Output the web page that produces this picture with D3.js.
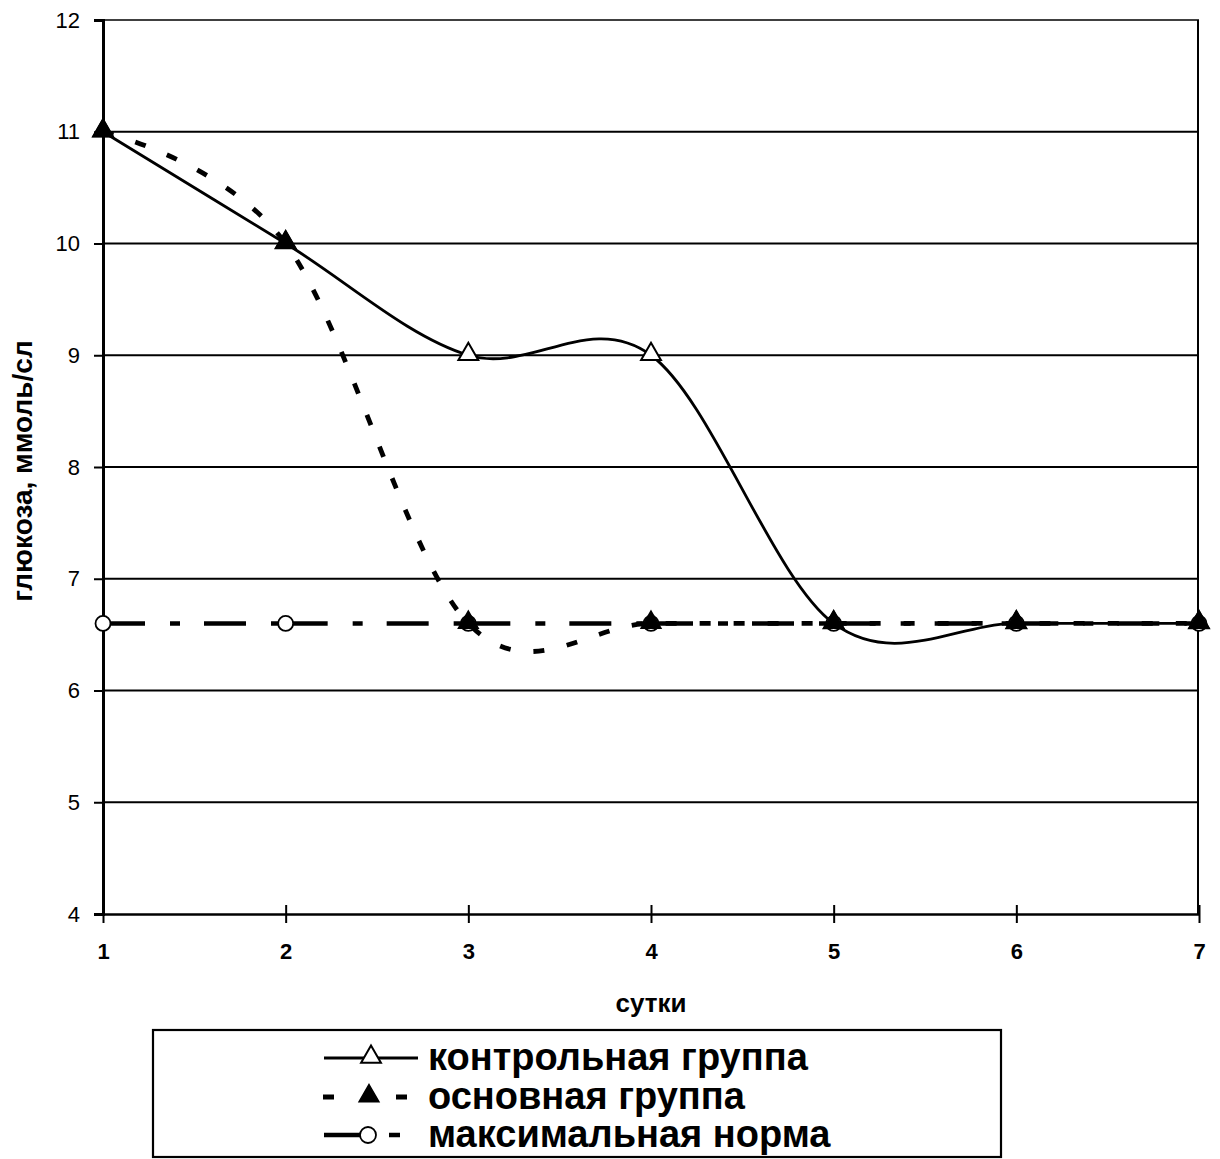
<!DOCTYPE html>
<html>
<head>
<meta charset="utf-8">
<script src="https://cdn.jsdelivr.net/npm/d3@7"></script>
<style>
  html, body { margin: 0; padding: 0; background: #fff; }
  svg { display: block; }
  text { font-family: "Liberation Sans", Arial, sans-serif; fill: #000; }
</style>
</head>
<body>
<svg id="chart" width="1220" height="1159"></svg>
<script>
// Days of observation
const days = [1, 2, 3, 4, 5, 6, 7];
// Glucose, mmol/l
const controlGroup = [11, 10, 9, 9, 6.6, 6.6, 6.6];
const mainGroup = [11, 10, 6.6, 6.6, 6.6, 6.6, 6.6];
const maxNorm = [6.6, 6.6, 6.6, 6.6, 6.6, 6.6, 6.6];
const yTicks = [4, 5, 6, 7, 8, 9, 10, 11, 12];
const seriesNames = ["контрольная группа", "основная группа", "максимальная норма"];
const xTitle = "сутки";
const yTitle = "глюкоза, ммоль/сл";

const svg = d3.select("#chart");
const plotLeft = 103, plotRight = 1199, plotTop = 20, plotBottom = 914;

const x = d3.scaleLinear().domain([1, 7]).range([plotLeft, plotRight]);
const y = d3.scaleLinear().domain([4, 12]).range([plotBottom, plotTop]);

// horizontal gridlines and frame
svg.append("g").selectAll("line")
  .data(yTicks.filter(t => t > 4))
  .join("line")
  .attr("x1", plotLeft).attr("x2", plotRight)
  .attr("y1", d => y(d)).attr("y2", d => y(d))
  .attr("stroke", "#000").attr("stroke-width", d => d === 12 ? 1.6 : 2.2);
svg.append("line")
  .attr("x1", plotRight - 1).attr("x2", plotRight - 1)
  .attr("y1", plotTop).attr("y2", plotBottom)
  .attr("stroke", "#000").attr("stroke-width", 2);

// y axis
const yAxis = svg.append("g")
  .attr("transform", `translate(${plotLeft},0)`)
  .call(d3.axisLeft(y).tickValues(yTicks).tickSize(9).tickPadding(14).tickFormat(d3.format("d")));
yAxis.select(".domain").attr("stroke-width", 3);
yAxis.selectAll(".tick line").attr("stroke-width", 2);
yAxis.selectAll("text").attr("font-size", 22).style("font-family", "'Liberation Sans', Arial, sans-serif");

// x axis with crossing ticks
const xAxis = svg.append("g")
  .attr("transform", `translate(0,${plotBottom})`)
  .call(d3.axisBottom(x).tickValues(days).tickSizeInner(9).tickSizeOuter(0).tickPadding(20).tickFormat(d3.format("d")));
xAxis.select(".domain").attr("stroke-width", 2.4);
xAxis.selectAll(".tick line").attr("y1", -9).attr("stroke-width", 2);
xAxis.selectAll("text").attr("font-size", 22).attr("font-weight", "bold")
  .style("font-family", "'Liberation Sans', Arial, sans-serif");

// axis titles
svg.append("text")
  .attr("x", 651).attr("y", 1012)
  .attr("text-anchor", "middle")
  .attr("font-size", 26).attr("font-weight", "bold")
  .text(xTitle);
svg.append("text")
  .attr("transform", "translate(32,471) rotate(-90)")
  .attr("text-anchor", "middle")
  .attr("font-size", 28).attr("font-weight", "bold")
  .text(yTitle);

const pts = vals => days.map((d, i) => [x(d), y(vals[i])]);
const smooth = d3.line().curve(d3.curveCardinal.tension(0));

// maximum norm: dash-dot, pattern restarts at every point
const normPts = pts(maxNorm);
svg.append("g").selectAll("path")
  .data(d3.pairs(normPts))
  .join("path")
  .attr("d", d => d3.line()(d))
  .attr("fill", "none").attr("stroke", "#000")
  .attr("stroke-width", 4.5)
  .attr("stroke-dasharray", "42,25,10,24");

// main group: dashed smoothed curve
svg.append("path")
  .attr("d", smooth(pts(mainGroup)))
  .attr("fill", "none").attr("stroke", "#000")
  .attr("stroke-width", 4.8)
  .attr("stroke-dasharray", "11,23");

// control group: solid smoothed curve
svg.append("path")
  .attr("d", smooth(pts(controlGroup)))
  .attr("fill", "none").attr("stroke", "#000")
  .attr("stroke-width", 2.8);

const tri = d3.symbol().type(d3.symbolTriangle).size(170);

// markers
svg.append("g").selectAll("path")
  .data(pts(controlGroup))
  .join("path")
  .attr("transform", d => `translate(${d[0]},${d[1] - 1})`)
  .attr("d", tri)
  .attr("fill", "#fff").attr("stroke", "#000").attr("stroke-width", 2);
svg.append("g").selectAll("circle")
  .data(normPts)
  .join("circle")
  .attr("cx", d => d[0]).attr("cy", d => d[1]).attr("r", 7.5)
  .attr("fill", "#fff").attr("stroke", "#000").attr("stroke-width", 1.8);
svg.append("g").selectAll("path")
  .data(pts(mainGroup))
  .join("path")
  .attr("transform", d => `translate(${d[0]},${d[1] - 1})`)
  .attr("d", tri)
  .attr("fill", "#000").attr("stroke", "#000").attr("stroke-width", 1.5);

// legend
const lg = svg.append("g");
lg.append("rect")
  .attr("x", 153).attr("y", 1030).attr("width", 848).attr("height", 127)
  .attr("fill", "#fff").attr("stroke", "#000").attr("stroke-width", 2.2);

const rows = [1058, 1097, 1135];
// row 1: control group
lg.append("line").attr("x1", 324).attr("x2", 418).attr("y1", rows[0]).attr("y2", rows[0])
  .attr("stroke", "#000").attr("stroke-width", 2.8);
lg.append("path").attr("transform", `translate(371,${rows[0] - 1})`).attr("d", tri)
  .attr("fill", "#fff").attr("stroke", "#000").attr("stroke-width", 2);
// row 2: main group
lg.append("line").attr("x1", 323).attr("x2", 407).attr("y1", rows[1]).attr("y2", rows[1])
  .attr("stroke", "#000").attr("stroke-width", 4.8).attr("stroke-dasharray", "11,62,11");
lg.append("path").attr("transform", `translate(369,${rows[1] - 1})`).attr("d", tri)
  .attr("fill", "#000").attr("stroke", "#000").attr("stroke-width", 1.5);
// row 3: maximum norm
lg.append("line").attr("x1", 324).attr("x2", 400).attr("y1", rows[2]).attr("y2", rows[2])
  .attr("stroke", "#000").attr("stroke-width", 4.5).attr("stroke-dasharray", "38,27,11");
lg.append("circle").attr("cx", 368).attr("cy", rows[2]).attr("r", 8)
  .attr("fill", "#fff").attr("stroke", "#000").attr("stroke-width", 1.8);

lg.selectAll("text.lbl")
  .data(seriesNames)
  .join("text")
  .attr("class", "lbl")
  .attr("x", 428).attr("y", (d, i) => rows[i] + 12)
  .attr("font-size", 38).attr("font-weight", "bold")
  .text(d => d);
</script>
</body>
</html>
